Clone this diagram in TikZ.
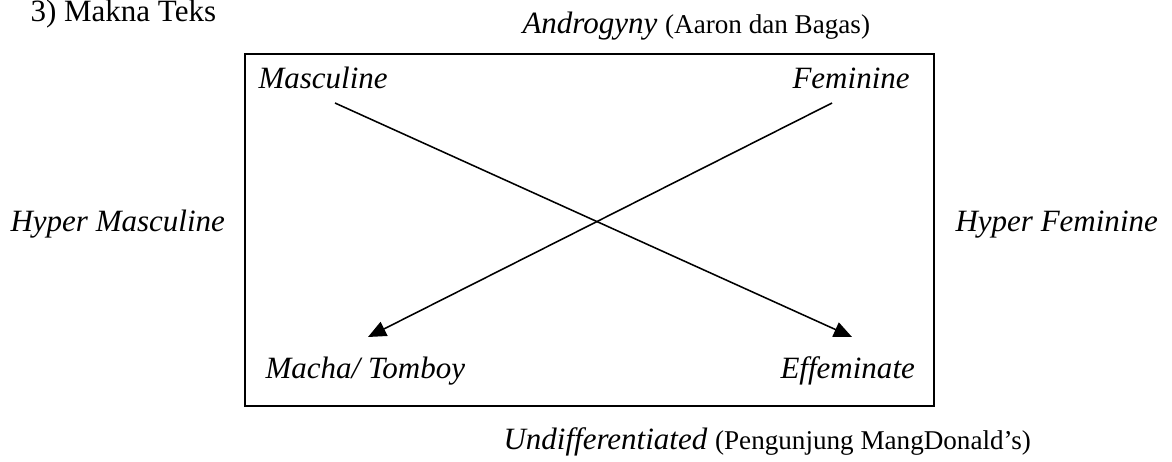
\documentclass[tikz,border=0pt]{standalone}
\usepackage{fontspec}
\setmainfont{Liberation Serif}
\usetikzlibrary{arrows.meta}
\def\outerbox{(245,54) rectangle (934,406)}
\def\notefont{\fontsize{10.5}{12}\selectfont\upshape}
\colorlet{axis line}{black}
\tikzset{tag/.style={anchor=base west, inner sep=0pt, font=\fontsize{12}{14}\selectfont\itshape},
    frame/.style={draw=axis line, line width=1pt},
    cross/.style={draw=axis line, line width=0.6pt, -{Triangle[length=7pt,width=6pt]}}}

\begin{document}
\begin{tikzpicture}[x=0.387pt, y=-0.387pt]
    \useasboundingbox (0,0) rectangle (1172,461);
    \draw[frame] \outerbox;
    % labels
    \node[tag, font=\fontsize{12}{14}\selectfont] (title) at (30,21) {3) Makna Teks};
    \node[tag] (andro) at (522,33) {Androgyny {\notefont (Aaron dan Bagas)}};
    \node[tag] (masc) at (258,88) {Masculine};
    \node[tag] (fem) at (792,88) {Feminine};
    \node[tag] (hypmasc) at (10,231) {Hyper Masculine};
    \node[tag] (hypfem) at (955,231) {Hyper Feminine};
    \node[tag] (macha) at (265,378) {Macha/ Tomboy};
    \node[tag] (effem) at (780,378) {Effeminate};
    \node[tag] (undiff) at (503,449) {Undifferentiated {\notefont (Pengunjung MangDonald's)}};
    % arrows
    \coordinate (mascfrom) at (335,103);
    \coordinate (femfrom) at (832,103);
    \coordinate (effemto) at (852,337);
    \coordinate (machato) at (368,337);
    \draw[cross] (mascfrom) -- (effemto);
    \draw[cross] (femfrom) -- (machato);
\end{tikzpicture}
\end{document}
